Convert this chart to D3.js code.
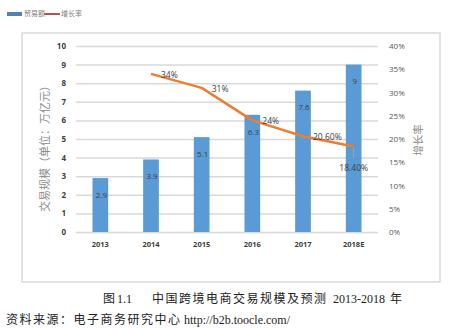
<!DOCTYPE html>
<html>
<head>
<meta charset="utf-8">
<script src="https://cdn.jsdelivr.net/npm/d3@7"></script>
<style>
  body { margin: 0; background: #fff; }
  svg { display: block; }
</style>
</head>
<body>
<div id="chart"></div>
<script>
// 数据
const years = ["2013", "2014", "2015", "2016", "2017", "2018E"];
const tradeVolume = [2.9, 3.9, 5.1, 6.3, 7.6, 9];
const growthYears = ["2014", "2015", "2016", "2017", "2018E"];
const growthRate = [34, 31, 24, 20.6, 18.4];
const leftTicks = [0, 1, 2, 3, 4, 5, 6, 7, 8, 9, 10];
const rightTicks = [0, 5, 10, 15, 20, 25, 30, 35, 40];

const W = 459, H = 328;
const plot = { left: 76, right: 378, top: 46, bottom: 232 };
const sans = "'Open Sans', 'Noto Sans CJK SC', sans-serif";
const serif = "'Liberation Serif', 'Noto Sans CJK SC', serif";

const svg = d3.select("#chart").append("svg")
  .attr("width", W).attr("height", H);

// 图表外框
svg.append("rect")
  .attr("x", 22).attr("y", 33)
  .attr("width", 418).attr("height", 249)
  .attr("fill", "none").attr("stroke", "#d9d9d9").attr("stroke-width", 1.5);

// 比例尺
const x = d3.scaleBand()
  .domain(years)
  .range([plot.left - 1, plot.right + 1])
  .paddingInner(0.69)
  .paddingOuter(0.345);
const y = d3.scaleLinear().domain([0, 10]).range([plot.bottom, plot.top]);
const y2 = d3.scaleLinear().domain([0, 40]).range([plot.bottom, plot.top]);
const cx = d => x(d) + x.bandwidth() / 2;

// 网格线 + 左轴
const gLeft = svg.append("g")
  .attr("transform", `translate(${plot.left},0)`)
  .call(d3.axisLeft(y).tickValues(leftTicks).tickSize(-(plot.right - plot.left)).tickPadding(10));
gLeft.select(".domain").remove();
gLeft.selectAll("line").attr("stroke", "#d9d9d9").attr("stroke-width", 1.5);
gLeft.selectAll("text")
  .attr("font-family", sans).attr("font-size", 8).attr("font-weight", "bold")
  .attr("fill", "#404040");

// 右轴
const gRight = svg.append("g")
  .attr("transform", `translate(${plot.right},0)`)
  .call(d3.axisRight(y2).tickValues(rightTicks).tickSize(0).tickPadding(11).tickFormat(d => d + "%"));
gRight.select(".domain").remove();
gRight.selectAll("text")
  .attr("font-family", sans).attr("font-size", 8)
  .attr("fill", "#595959");

// X轴标签
svg.append("g")
  .attr("transform", `translate(0,${plot.bottom})`)
  .call(d3.axisBottom(x).tickSize(0).tickPadding(10))
  .call(g => g.select(".domain").remove())
  .selectAll("text")
  .attr("font-family", sans).attr("font-size", 7.5).attr("font-weight", "bold")
  .attr("fill", "#404040");

// 柱形
const bars = years.map((yr, i) => ({ yr, v: tradeVolume[i] }));
svg.selectAll(".bar")
  .data(bars)
  .enter().append("rect")
  .attr("class", "bar")
  .attr("x", d => x(d.yr))
  .attr("y", d => y(d.v))
  .attr("width", x.bandwidth())
  .attr("height", d => y(0) - y(d.v))
  .attr("fill", "#5b9bd5");

svg.selectAll(".bar-label")
  .data(bars)
  .enter().append("text")
  .attr("x", d => cx(d.yr) + 1)
  .attr("y", d => y(d.v) + 17)
  .attr("dy", "0.35em")
  .attr("text-anchor", "middle")
  .attr("font-family", sans).attr("font-size", 8)
  .attr("fill", "#404040")
  .text(d => d.v);

// 增长率折线
const pts = growthYears.map((yr, i) => ({ yr, v: growthRate[i] }));
svg.append("path")
  .datum(pts)
  .attr("fill", "none")
  .attr("stroke", "#ed7d31")
  .attr("stroke-width", 2.5)
  .attr("stroke-linejoin", "round")
  .attr("d", d3.line().x(d => cx(d.yr)).y(d => y2(d.v)));

const fmtPct = v => (Number.isInteger(v) ? v : v.toFixed(2)) + "%";
const last = pts[pts.length - 1];

svg.selectAll(".pt-label")
  .data(pts.slice(0, -1))
  .enter().append("text")
  .attr("x", d => cx(d.yr) + 10)
  .attr("y", d => y2(d.v) + 1)
  .attr("dy", "0.35em")
  .attr("font-family", sans).attr("font-size", 8.5)
  .attr("fill", "#404040")
  .text(d => fmtPct(d.v));

// 最后一点的标签放在下方，带引导线
svg.append("line")
  .attr("x1", cx(last.yr)).attr("x2", cx(last.yr))
  .attr("y1", y2(last.v) + 1).attr("y2", y2(last.v) + 12)
  .attr("stroke", "#a6a6a6").attr("stroke-width", 0.8);
svg.append("text")
  .attr("x", cx(last.yr))
  .attr("y", y2(last.v) + 22)
  .attr("dy", "0.35em")
  .attr("text-anchor", "middle")
  .attr("font-family", sans).attr("font-size", 8.5)
  .attr("fill", "#404040")
  .text(fmtPct(last.v));

// 坐标轴标题
svg.append("text")
  .attr("transform", "translate(49,146) rotate(-90)")
  .attr("text-anchor", "middle")
  .attr("font-family", sans).attr("font-size", 11)
  .attr("fill", "#8c8c8c")
  .text("交易规模（单位：万亿元）");
svg.append("text")
  .attr("transform", "translate(422,140) rotate(-90)")
  .attr("text-anchor", "middle")
  .attr("font-family", sans).attr("font-size", 10.5)
  .attr("fill", "#8c8c8c")
  .text("增长率");

// 图例
const legend = svg.append("g").attr("font-family", sans).attr("font-size", 7).attr("fill", "#7f7f7f");
legend.append("rect").attr("x", 7).attr("y", 12).attr("width", 15).attr("height", 4).attr("fill", "#4f81bd");
legend.append("text").attr("x", 24).attr("y", 14).attr("dy", "0.35em").text("贸易额");
legend.append("line").attr("x1", 44).attr("x2", 60).attr("y1", 14).attr("y2", 14)
  .attr("stroke", "#c0504d").attr("stroke-width", 2);
legend.append("text").attr("x", 61).attr("y", 14).attr("dy", "0.35em").text("增长率");

// 图题与资料来源（中文字距稍宽，西文紧凑）
const caption = svg.append("text")
  .attr("y", 299).attr("dy", "0.35em")
  .attr("font-family", serif).attr("font-size", 12)
  .attr("fill", "#222");
[["图", 103, 0], ["1.1", 117, 0], ["中国跨境电商交易规模及预测", 152, 1.5],
 ["2013-2018", 333, 0], ["年", 390, 0]].forEach(([t, px, ls]) => {
  caption.append("tspan").attr("x", px).attr("letter-spacing", ls).text(t);
});

const source = svg.append("text")
  .attr("y", 320).attr("dy", "0.35em")
  .attr("font-family", serif).attr("font-size", 12)
  .attr("fill", "#222");
source.append("tspan").attr("x", 6).attr("letter-spacing", 1.5).text("资料来源：电子商务研究中心");
source.append("tspan").attr("x", 184).text("http://b2b.toocle.com/");
</script>
</body>
</html>
